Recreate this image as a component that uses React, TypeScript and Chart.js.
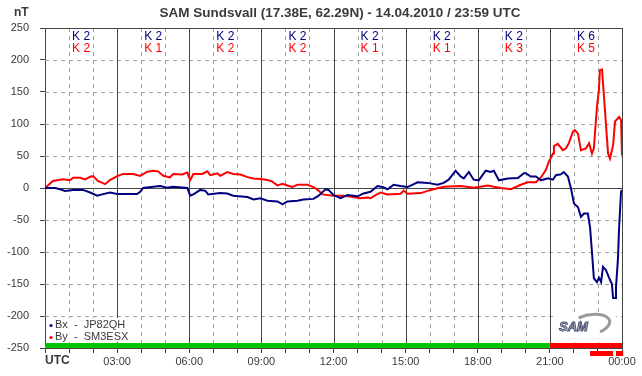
import React, { useEffect, useRef } from 'react';
import { Chart, registerables } from 'chart.js';

Chart.register(...registerables);

const chartTitle = 'SAM Sundsvall (17.38E, 62.29N) - 14.04.2010 / 23:59 UTC';
const unitLabel = 'nT';
const timeLabel = 'UTC';
const bxLabel = 'Bx  -  JP82QH';
const byLabel = 'By  -  SM3ESX';

// time in hours (UTC)
const bxTimes = [0, 0.42, 0.63, 0.83, 1.17, 1.58, 1.88, 2.17, 2.38, 2.7, 3.0, 3.83, 3.96, 4.08, 4.5, 4.79, 5.08, 5.33, 5.92, 6.04, 6.17, 6.46, 6.67, 6.79, 7.29, 7.58, 7.83, 8.42, 8.67, 8.96, 9.25, 9.67, 9.88, 10.08, 10.5, 10.75, 11.17, 11.38, 11.67, 11.79, 12.0, 12.29, 12.58, 13.0, 13.25, 13.54, 13.83, 14.04, 14.25, 14.5, 14.79, 15.08, 15.5, 15.92, 16.33, 16.58, 16.79, 17.08, 17.29, 17.42, 17.63, 17.83, 18.04, 18.33, 18.54, 18.67, 18.88, 19.25, 19.67, 19.92, 20.0, 20.2, 20.42, 20.63, 20.92, 21.13, 21.25, 21.46, 21.58, 21.75, 21.88, 22.0, 22.17, 22.29, 22.42, 22.58, 22.67, 22.75, 22.83, 22.96, 23.04, 23.13, 23.21, 23.33, 23.46, 23.58, 23.63, 23.71, 23.75, 23.83, 23.88, 23.96, 24.0];
const bxValues = [0, 0, -2, -4.5, -3, -3, -7, -12, -10, -7, -9.5, -9.5, -6, 0, 2, 3, 0.5, 2, 0, -12, -10, -3, -4.5, -10, -8, -8.5, -12, -14, -18, -16, -20, -21, -25.5, -21, -20, -18, -17, -12, -2, -3, -11, -16, -11, -13, -8.5, -6, 3, 1.5, -2, 5, 3, 1.5, 9, 8, 5, 8, 13, 27, 18, 15, 25, 13, 12, 27, 25, 27, 12, 15, 15.5, 23, 23, 18, 18, 12, 15, 13, 20, 21.5, 25, 18, -1, -24, -30, -45, -40, -40, -61, -100, -141, -147, -140, -147, -123, -128, -140, -150, -172, -172, -155, -112, -61, -6, -3];

const byTimes = [0, 0.33, 0.75, 1.04, 1.17, 1.46, 1.67, 1.88, 2.0, 2.2, 2.5, 2.7, 3.0, 3.25, 3.67, 3.96, 4.25, 4.5, 4.7, 4.92, 5.2, 5.33, 5.7, 5.92, 6.04, 6.17, 6.54, 6.75, 6.88, 7.17, 7.29, 7.58, 7.83, 8.13, 8.42, 8.67, 8.96, 9.25, 9.46, 9.67, 9.88, 10.08, 10.29, 10.5, 10.92, 11.17, 11.38, 11.54, 12.0, 12.42, 12.83, 13.13, 13.42, 13.54, 13.75, 13.96, 14.25, 14.79, 14.92, 15.08, 15.63, 16.04, 16.58, 17.29, 17.83, 18.42, 18.67, 18.96, 19.38, 19.79, 20.08, 20.42, 20.63, 20.83, 20.96, 21.13, 21.17, 21.33, 21.54, 21.67, 21.79, 21.96, 22.04, 22.17, 22.29, 22.5, 22.63, 22.75, 22.83, 22.88, 22.96, 23.04, 23.08, 23.17, 23.25, 23.33, 23.42, 23.5, 23.63, 23.71, 23.88, 23.96, 24.0];
const byValues = [0, 11, 13.5, 12, 16, 16, 13.5, 17.5, 18.5, 11, 6, 12.5, 18.5, 22, 22, 19, 25.5, 27, 26, 19, 16.5, 22, 21, 24, 12.5, 22, 22, 26, 20, 23, 19, 25, 22, 21, 17, 15, 14, 12.5, 10, 4, 6.5, 4, 1.5, 5, 5, 1.5, -4, -10, -12, -12, -14, -16, -15, -16, -11, -7, -10, -9, -4, -9, -8, -3, 2, 3, 0.5, 4, 2, 0, -2, 5, 9, 9, 16.5, 28, 41, 54, 65.5, 69, 59, 62, 70, 88, 90.5, 85, 59, 62, 70, 54, 62, 88, 127, 153, 184, 185, 143, 101, 54, 46, 67, 104, 111, 106, 51];

// K indices per 3-hour block
const kBx = [2, 2, 2, 2, 2, 2, 2, 6];
const kBy = [2, 1, 2, 2, 1, 1, 3, 5];

// status bar segments (hours)
const statusStart = [0, 21];
const statusEnd = [21, 24];
const statusColors = ['#00c400', '#ff0000'];

// alert marks below the axis (hours)
const alertStart = [22.67, 23.75];
const alertEnd = [23.63, 24.05];

const FONT = '"Liberation Sans", Arial, sans-serif';
const TEXT = '#3a3a3a';
const BX_COLOR = '#000080';
const BY_COLOR = '#ff0000';

const samPlugin = {
  id: 'samDecor',
  beforeDatasetsDraw(chart: any) {
    const { ctx, chartArea: a, scales } = chart;
    const x = scales.x;
    const y = scales.y;
    const line = (x1: number, y1: number, x2: number, y2: number) => {
      ctx.beginPath();
      ctx.moveTo(x1, y1);
      ctx.lineTo(x2, y2);
      ctx.stroke();
    };
    ctx.save();
    ctx.lineWidth = 1;
    ctx.strokeStyle = '#a0a0a0';
    ctx.setLineDash([4, 4]);
    for (let h = 1; h < 24; h++) {
      if (h % 3 === 0) continue;
      const px = Math.round(x.getPixelForValue(h)) + 0.5;
      line(px, a.top, px, a.bottom);
    }
    for (let v = -200; v <= 200; v += 50) {
      if (v === 0) continue;
      const py = Math.round(y.getPixelForValue(v)) + 0.5;
      line(a.left, py, a.right, py);
    }
    ctx.setLineDash([]);
    ctx.strokeStyle = '#454545';
    for (let h = 3; h <= 24; h += 3) {
      const px = Math.round(x.getPixelForValue(h)) + 0.5;
      line(px, a.top, px, a.bottom);
    }
    const top = Math.round(y.getPixelForValue(250)) + 0.5;
    line(a.left, top, a.right, top);
    const zero = Math.round(y.getPixelForValue(0)) + 0.5;
    line(a.left, zero, a.right, zero);

    // K indices
    ctx.font = '12px ' + FONT;
    ctx.textAlign = 'center';
    ctx.textBaseline = 'middle';
    for (let i = 0; i < kBx.length; i++) {
      const cx = x.getPixelForValue(i * 3 + 1.5);
      ctx.fillStyle = BX_COLOR;
      ctx.fillText('K ' + kBx[i], cx, a.top + 9);
      ctx.fillStyle = BY_COLOR;
      ctx.fillText('K ' + kBy[i], cx, a.top + 21);
    }
    ctx.restore();
  },
  afterDraw(chart: any) {
    const { ctx, chartArea: a, scales } = chart;
    const x = scales.x;
    ctx.save();
    // title
    ctx.fillStyle = TEXT;
    ctx.font = 'bold 13.5px ' + FONT;
    ctx.textBaseline = 'middle';
    ctx.textAlign = 'center';
    ctx.fillText(chartTitle, 340, 13);
    ctx.textAlign = 'left';
    ctx.font = 'bold 12px ' + FONT;
    ctx.fillText(unitLabel, 14, 13);
    ctx.fillText(timeLabel, a.left, 361);

    // legend box
    ctx.fillStyle = '#ffffff';
    ctx.fillRect(a.left + 1, 318, 75, 24);
    ctx.font = '11px ' + FONT;
    ctx.fillStyle = BX_COLOR;
    ctx.beginPath();
    ctx.arc(51, 325.5, 1.6, 0, Math.PI * 2);
    ctx.fill();
    ctx.fillStyle = BY_COLOR;
    ctx.beginPath();
    ctx.arc(51, 337.5, 1.6, 0, Math.PI * 2);
    ctx.fill();
    ctx.fillStyle = TEXT;
    ctx.fillText(bxLabel, 55, 325);
    ctx.fillText(byLabel, 55, 337);

    // logo
    ctx.fillStyle = '#ffffff';
    ctx.fillRect(556, 313, 60, 29);
    ctx.strokeStyle = '#9a9a9a';
    ctx.lineWidth = 3;
    ctx.beginPath();
    ctx.ellipse(589, 325, 21, 10, -0.2, -2.0, 1.1);
    ctx.stroke();
    ctx.font = 'italic bold 13px ' + FONT;
    ctx.lineWidth = 1;
    ctx.strokeStyle = '#4a5070';
    ctx.fillStyle = '#c8c8d0';
    ctx.fillText('SAM', 559, 327);
    ctx.strokeText('SAM', 559, 327);

    // status bar
    for (let i = 0; i < statusStart.length; i++) {
      const x1 = x.getPixelForValue(statusStart[i]);
      const x2 = x.getPixelForValue(statusEnd[i]);
      ctx.fillStyle = statusColors[i];
      ctx.fillRect(x1, a.bottom - 5, x2 - x1, 5);
    }
    // alert marks
    ctx.fillStyle = '#ff0000';
    for (let i = 0; i < alertStart.length; i++) {
      const x1 = x.getPixelForValue(alertStart[i]);
      const x2 = x.getPixelForValue(alertEnd[i]);
      ctx.fillRect(x1, a.bottom + 3, x2 - x1, 5);
    }
    ctx.restore();
  },
};

function toPoints(ts: number[], vs: number[]) {
  return ts.map((t, i) => ({ x: t, y: vs[i] }));
}

function hourLabel(v: number) {
  const h = v % 24;
  return (h < 10 ? '0' : '') + h + ':00';
}

export default function App() {
  const ref = useRef<HTMLCanvasElement>(null);
  useEffect(() => {
    if (!ref.current) return;
    const chart = new Chart(ref.current, {
      type: 'line',
      data: {
        datasets: [
          {
            label: bxLabel,
            data: toPoints(bxTimes, bxValues),
            borderColor: BX_COLOR,
            borderWidth: 2,
            pointRadius: 0,
            tension: 0,
            fill: false,
          },
          {
            label: byLabel,
            data: toPoints(byTimes, byValues),
            borderColor: BY_COLOR,
            borderWidth: 2,
            pointRadius: 0,
            tension: 0,
            fill: false,
          },
        ],
      },
      options: {
        animation: false,
        responsive: true,
        maintainAspectRatio: false,
        layout: { padding: { left: 0, right: 20, top: 28, bottom: 0 } },
        plugins: { legend: { display: false }, tooltip: { enabled: false }, title: { display: false } },
        scales: {
          x: {
            type: 'linear',
            min: 0,
            max: 24,
            afterFit: (s: any) => { s.height = 28; },
            ticks: {
              stepSize: 1,
              autoSkip: false,
              maxRotation: 0,
              padding: 2,
              color: TEXT,
              font: { family: FONT, size: 11 },
              callback: (v: any) => (v % 3 === 0 && v !== 0 ? hourLabel(v) : ''),
            },
            grid: { drawOnChartArea: false, drawTicks: true, tickLength: 5, color: '#454545' },
            border: { display: true, color: '#454545' },
          },
          y: {
            type: 'linear',
            min: -250,
            max: 250,
            afterFit: (s: any) => { s.width = 45; },
            ticks: {
              stepSize: 50,
              padding: 11,
              color: TEXT,
              font: { family: FONT, size: 11 },
            },
            grid: { drawOnChartArea: false, drawTicks: true, tickLength: 5, color: '#454545' },
            border: { display: true, color: '#454545' },
          },
        },
      },
      plugins: [samPlugin],
    });
    return () => chart.destroy();
  }, []);
  return (
    <div style={{ position: 'fixed', left: 0, top: 0, width: 642, height: 376, background: '#fff' }}>
      <canvas ref={ref} />
    </div>
  );
}
